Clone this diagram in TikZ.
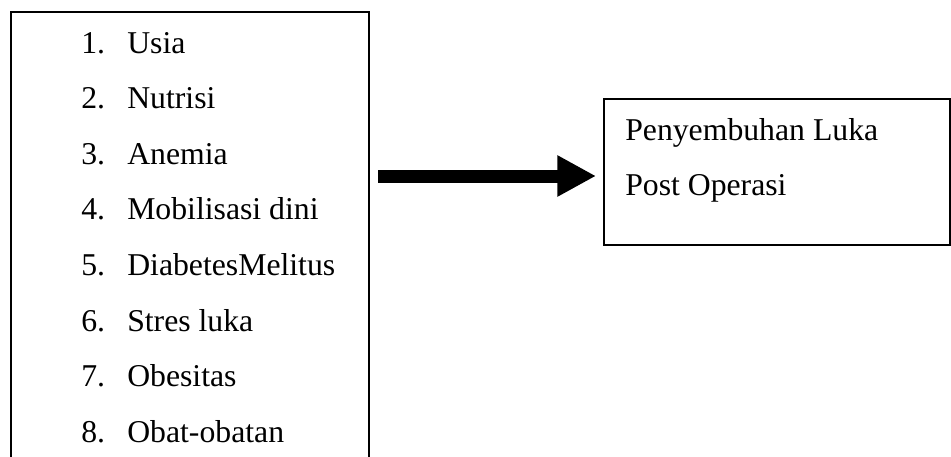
\documentclass[tikz,border=0pt]{standalone}
\usepackage{fontspec}
\setmainfont{Liberation Serif}
\usepackage{tikz}
\usetikzlibrary{positioning, arrows.meta, calc}

\tikzset{
  kotak/.style={draw, line width=0.8pt, inner sep=0pt, outer sep=0pt, anchor=north west},
  teks/.style={anchor=base west, inner sep=0pt, font=\fontsize{23.8}{28}\selectfont},
  arah/.style={line width=9.75pt, -{Triangle[length=29pt, width=29pt]}}
}

\begin{document}
\begin{tikzpicture}[x=0.75pt, y=-0.75pt]
  \useasboundingbox (0,0) rectangle (951,457);
  % kotak kiri, bagian bawah terpotong
  \node[kotak, draw=none, minimum width=268.5pt, minimum height=333.75pt] (faktor) at (11,12) {};
  \draw[line width=0.8pt] (faktor.south west) -- (faktor.north west) -- (faktor.north east) -- (faktor.south east);
  \foreach \no/\isi [count=\i] in {1/Usia, 2/Nutrisi, 3/Anemia, 4/Mobilisasi dini, 5/DiabetesMelitus, 6/Stres luka, 7/Obesitas, 8/Obat-obatan} {
    \node[teks] (no\i) at (81,{53+(\i-1)*55.6}) {\no.};
    \node[teks] (item\i) at (127,{53+(\i-1)*55.6}) {\isi};
  }
  % kotak kanan
  \node[kotak, minimum width=259.5pt, minimum height=109.5pt] (luka) at (604,99) {};
  \node[teks] (judul1) at (625,140) {Penyembuhan Luka};
  \node[teks] (judul2) at (625,195) {Post Operasi};
  % panah
  \draw[arah] ([xshift=6.75pt, yshift=-3pt]faktor.east |- luka.west) -- ([xshift=-6pt, yshift=-3pt]luka.west);
\end{tikzpicture}
\end{document}
